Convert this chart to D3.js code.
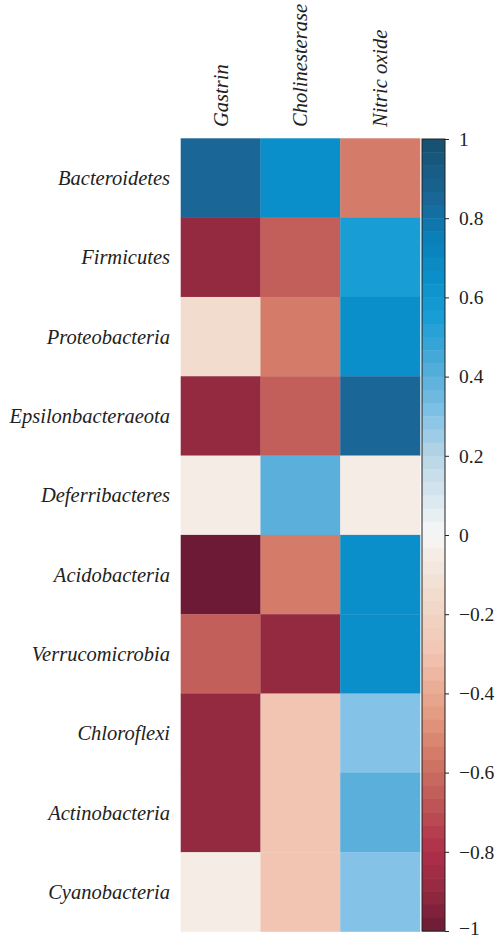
<!DOCTYPE html>
<html><head><meta charset="utf-8">
<script src="https://cdn.jsdelivr.net/npm/d3@7/dist/d3.min.js"></script>
<style>body{margin:0;background:#fff}svg{display:block}</style>
</head><body>
<script>
const columns = ["Gastrin", "Cholinesterase", "Nitric oxide"];
const rows = ["Bacteroidetes", "Firmicutes", "Proteobacteria", "Epsilonbacteraeota", "Deferribacteres",
  "Acidobacteria", "Verrucomicrobia", "Chloroflexi", "Actinobacteria", "Cyanobacteria"];
const gastrin = [0.85, -0.9, -0.15, -0.9, -0.05, -1.0, -0.65, -0.9, -0.9, -0.05];
const cholinesterase = [0.65, -0.65, -0.55, -0.65, 0.4, -0.55, -0.9, -0.3, -0.3, -0.3];
const nitricOxide = [-0.55, 0.55, 0.65, 0.85, -0.05, 0.65, 0.65, 0.3, 0.4, 0.3];
const colorTicks = [1, 0.8, 0.6, 0.4, 0.2, 0, -0.2, -0.4, -0.6, -0.8, -1];
const paletteStops = [-1, -0.9, -0.8, -0.65, -0.55, -0.45, -0.3, -0.15, -0.05, 0, 0.2, 0.3, 0.4, 0.55, 0.65, 0.75, 0.85, 1];
const paletteColors = ["#6c1a35", "#932a40", "#ae2f48", "#c25f5a", "#d47c69", "#e49c82", "#f1c5b2", "#f1dccd", "#f5ece6",
  "#f7f7f7", "#b8d5e5", "#84c3e7", "#5aafdb", "#189dd4", "#0b8fca", "#0a7fb8", "#1a6696", "#17506f"];

const series = [gastrin, cholinesterase, nitricOxide];
const cells = [];
rows.forEach((r, i) => columns.forEach((c, j) => cells.push({row: r, col: c, v: series[j][i]})));

const W = 498, H = 940;
const svg = d3.select("body").append("svg").attr("width", W).attr("height", H);
const color = d3.scaleLinear().domain(paletteStops).range(paletteColors).interpolate(d3.interpolateRgb).clamp(true);

const x = d3.scaleBand().domain(columns).range([180.7, 420]);
const y = d3.scaleBand().domain(rows).range([138.3, 931.5]);

svg.append("g").selectAll("rect").data(cells).join("rect")
  .attr("x", d => x(d.col)).attr("y", d => y(d.row))
  .attr("width", x.bandwidth() + 0.3).attr("height", y.bandwidth() + 0.3)
  .attr("fill", d => color(d.v));

const serif = "'Liberation Serif', 'Times New Roman', serif";
svg.append("g").selectAll("text").data(rows).join("text")
  .attr("x", 170).attr("y", d => y(d) + y.bandwidth() / 2)
  .attr("dy", "0.35em").attr("text-anchor", "end")
  .attr("font-family", serif).attr("font-style", "italic").attr("font-size", 20.5)
  .attr("fill", "#222").text(d => d);

svg.append("g").selectAll("text").data(columns).join("text")
  .attr("transform", d => `translate(${x(d) + x.bandwidth() / 2 + 7},127) rotate(-90)`)
  .attr("text-anchor", "start")
  .attr("font-family", serif).attr("font-style", "italic").attr("font-size", 20.5)
  .attr("fill", "#222").text(d => d);

// colorbar
const cbX = 422, cbW = 23;
const cy = d3.scaleLinear().domain([1, -1]).range([139, 931]);
const nSteps = 60;
const steps = d3.range(nSteps).map(i => 1 - (i + 0.5) * 2 / nSteps);
svg.append("g").selectAll("rect").data(steps).join("rect")
  .attr("x", cbX).attr("y", d => cy(d + 1 / nSteps))
  .attr("width", cbW).attr("height", 792 / nSteps + 0.5)
  .attr("fill", d => color(d));
svg.append("rect").attr("x", cbX).attr("y", 139).attr("width", cbW).attr("height", 792)
  .attr("fill", "none").attr("stroke", "#222").attr("stroke-width", 1);

const axis = d3.axisRight(cy).tickValues(colorTicks).tickSize(4).tickPadding(10)
  .tickFormat(d => d < 0 ? "\u2212" + d3.format("")(Math.abs(d)) : d3.format("")(d));
const ag = svg.append("g").attr("transform", `translate(${cbX + cbW},0)`).call(axis);
ag.select(".domain").remove();
ag.selectAll("line").attr("stroke", "#222");
ag.selectAll("text").attr("font-family", serif).attr("font-size", 19.5).attr("fill", "#222")
  .attr("dy", d => d === -1 ? "0.18em" : "0.32em");
</script>
</body></html>
